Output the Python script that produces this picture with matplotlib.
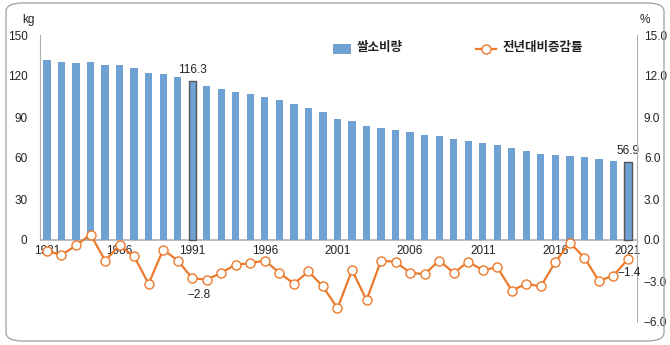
import numpy as np
import matplotlib
matplotlib.use('Agg')
import matplotlib.pyplot as plt
from matplotlib.patches import FancyBboxPatch

plt.rcParams['font.family'] = ['Liberation Sans', 'Noto Sans CJK KR', 'DejaVu Sans']

years = list(range(1981, 2022))
rice = [131.8, 130.1, 129.6, 130.1, 128.1, 127.7, 126.2, 122.2, 121.4, 119.6,
        116.3, 112.9, 110.2, 108.3, 106.5, 104.9, 102.4, 99.2, 96.9, 93.6,
        88.9, 87.0, 83.2, 82.0, 80.7, 78.8, 76.9, 75.8, 74.0, 72.8,
        71.2, 69.8, 67.2, 65.1, 62.9, 61.9, 61.8, 61.0, 59.2, 57.7, 56.9]
change = [-0.8, -1.1, -0.4, 0.4, -1.5, -0.4, -1.2, -3.2, -0.7, -1.5,
          -2.8, -2.9, -2.4, -1.8, -1.7, -1.5, -2.4, -3.2, -2.3, -3.4,
          -5.0, -2.2, -4.4, -1.5, -1.6, -2.4, -2.5, -1.5, -2.4, -1.6,
          -2.2, -2.0, -3.7, -3.2, -3.4, -1.6, -0.2, -1.3, -3.0, -2.6, -1.4]
year_labels = [1981, 1986, 1991, 1996, 2001, 2006, 2011, 2016, 2021]
left_ticks = [0, 30, 60, 90, 120, 150]
right_ticks = [-6, -3, 0, 3, 6, 9, 12, 15]
highlight = [1991, 2021]

bar_color = '#6fa1d2'
line_color = '#ec7a2c'
txt = '#222222'

fig = plt.figure(figsize=(6.7, 3.45), dpi=100, facecolor='w')
fig.patches.append(FancyBboxPatch((6/670, 4/345), 658/670, 338/345,
                                  boxstyle='round,pad=0,rounding_size=0.025',
                                  transform=fig.transFigure, fc='none', ec='#a8a8a8', lw=1.0))

ax = fig.add_axes([40/670, 1-322/345, 597/670, 287/345])
ax.set_xlim(1980.52, 2021.62)
ax.set_ylim(-60, 150)

edge = ['#555555' if y in highlight else bar_color for y in years]
lws = [1.0 if y in highlight else 0 for y in years]
ax.bar(years, rice, width=0.5, color=bar_color, edgecolor=edge, linewidth=lws, zorder=2)

ax.axhline(0, color='#b0b0b0', lw=1.2, zorder=1)
for s in ['top', 'right', 'bottom']:
    ax.spines[s].set_visible(False)
ax.spines['left'].set_bounds(0, 150)
ax.spines['left'].set_color('#b0b0b0')
ax.set_yticks(left_ticks)
ax.set_yticklabels([str(t) for t in left_ticks], fontsize=8.5, color=txt)
ax.tick_params(axis='y', length=0, pad=9)
ax.set_xticks([])
for y in year_labels:
    ax.text(y, -3.5, str(y), ha='center', va='top', fontsize=8.5, color=txt, zorder=5)
ax.text(-12/597, 1.0 + 9/287, 'kg', transform=ax.transAxes, ha='center', va='bottom', fontsize=8.5, color=txt)

for y in highlight:
    v = rice[years.index(y)]
    ax.text(y, v + 4, f'{v:.1f}', ha='center', va='bottom', fontsize=8.5, color=txt)

ax2 = ax.twinx()
ax2.set_ylim(-6, 15)
ax2.plot(years, change, color=line_color, lw=1.6, marker='o', markersize=6.5,
         markerfacecolor='white', markeredgecolor=line_color, markeredgewidth=1.0, zorder=3)
for s in ['top', 'left', 'bottom']:
    ax2.spines[s].set_visible(False)
ax2.spines['right'].set_color('#b0b0b0')
ax2.set_yticks(right_ticks)
ax2.set_yticklabels([f'{t:.1f}'.replace('-', '\u2212') for t in right_ticks], fontsize=8.5, color=txt)
ax2.tick_params(axis='y', length=0, pad=5)
ax2.text(1.0 + 8/597, 1.0 + 9/287, '%', transform=ax2.transAxes, ha='center', va='bottom', fontsize=8.5, color=txt)

v = change[years.index(1991)]
ax2.text(1991.5, v - 0.8, f'{v:.1f}'.replace('-', '\u2212'), ha='center', va='top', fontsize=8.5, color=txt)
v = change[years.index(2021)]
ax2.text(2021.1, v - 0.55, f'{v:.1f}'.replace('-', '\u2212'), ha='center', va='top', fontsize=8.5, color=txt)

# legend drawn by hand in figure coords
fig.patches.append(plt.Rectangle((333/670, 1-53/345), 17/670, 9/345, transform=fig.transFigure,
                                 fc=bar_color, ec='#5a8cc0', lw=0.5))
fig.text(357/670, 1-48/345, '쌀소비량', ha='left', va='center', fontsize=9, fontweight='bold',
         color=txt, family=['Noto Sans CJK KR'])
fig.lines.append(plt.Line2D([476/670, 486/670, 496/670], [1-49/345] * 3, transform=fig.transFigure,
                            color=line_color, lw=1.6, marker='o', markersize=6.5, markevery=[1],
                            markerfacecolor='white', markeredgecolor=line_color))
fig.text(503/670, 1-48/345, '전년대비증감률', ha='left', va='center', fontsize=9, fontweight='bold',
         color=txt, family=['Noto Sans CJK KR'])

fig.savefig('out.png', dpi=100, facecolor='w')
